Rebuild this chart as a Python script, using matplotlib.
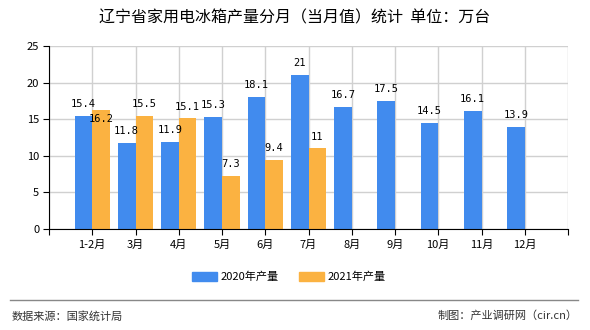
import matplotlib
matplotlib.use("Agg")
from matplotlib import pyplot as plt
from matplotlib.patches import Patch
from matplotlib.lines import Line2D

plt.rcParams['font.family'] = ['Noto Sans CJK SC', 'DejaVu Sans']

# data
months = ['1-2月', '3月', '4月', '5月', '6月', '7月', '8月', '9月', '10月', '11月', '12月']
output_2020 = [15.4, 11.8, 11.9, 15.3, 18.1, 21, 16.7, 17.5, 14.5, 16.1, 13.9]
output_2021 = [16.2, 15.5, 15.1, 7.3, 9.4, 11]

blue = '#418BEE'
orange = '#FBB241'
w = 0.41

fig = plt.figure(figsize=(5.9, 3.3), dpi=100)
ax = fig.add_axes([49 / 590, 1 - 229 / 330, (568 - 49) / 590, (229 - 46) / 330])

xs = list(range(1, len(months) + 1))
ax.bar([x - w / 2 for x in xs], output_2020, width=w, color=blue, zorder=3)
ax.bar([x + w / 2 for x in xs[:len(output_2021)]], output_2021, width=w, color=orange, zorder=3)

# value labels
for x, v in zip(xs, output_2020):
    ax.annotate(f'{v:g}', (x - w / 2, v), xytext=(0, 5), textcoords='offset points',
                ha='center', va='bottom', fontsize=7.5, family='DejaVu Sans Mono', zorder=4)
for i, v in enumerate(output_2021):
    x = xs[i]
    dy = 5
    # push the label down when it would collide with the neighbouring 2020 label
    if 0 < v - output_2020[i] < 1.5:
        dy = -10
    ax.annotate(f'{v:g}', (x + w / 2, v), xytext=(0, dy), textcoords='offset points',
                ha='center', va='bottom', fontsize=7.5, family='DejaVu Sans Mono', zorder=4)

ax.set_xlim(0, 12)
ax.set_ylim(0, 25)
ax.set_yticks([0, 5, 10, 15, 20, 25])
ax.set_xticks(range(0, 13))
ax.set_xticklabels([''] + months + [''])
ax.tick_params(axis='both', labelsize=8, length=4, color='black', pad=3)
ax.tick_params(axis='x', pad=4)

ax.grid(True, color='#D0D0D0', linewidth=1, zorder=0)
for s in ['top', 'right']:
    ax.spines[s].set_visible(False)
ax.spines['left'].set_color('black')
ax.spines['bottom'].set_color('black')
ax.spines['left'].set_zorder(5)
ax.spines['bottom'].set_zorder(5)

fig.text(0.5, 1 - 18 / 330, '辽宁省家用电冰箱产量分月（当月值）统计  单位：万台',
         ha='center', va='center', fontsize=11.5)

handles = [Patch(color=blue, label='2020年产量'), Patch(color=orange, label='2021年产量')]
fig.legend(handles=handles, loc='center', bbox_to_anchor=(0.49, 1 - 277 / 330), ncol=2,
           frameon=False, fontsize=8, handlelength=2.2, handleheight=0.9,
           handletextpad=0.4, columnspacing=1.8)

fig.add_artist(Line2D([10 / 590, 578 / 590], [1 - 300 / 330] * 2, color='#888888', linewidth=1))
fig.text(12 / 590, 1 - 316 / 330, '数据来源：国家统计局', ha='left', va='center', fontsize=8, color='#333333')
fig.text(578 / 590, 1 - 316 / 330, '制图：产业调研网（cir.cn）', ha='right', va='center', fontsize=8, color='#333333')

fig.savefig('out.png', dpi=100)
